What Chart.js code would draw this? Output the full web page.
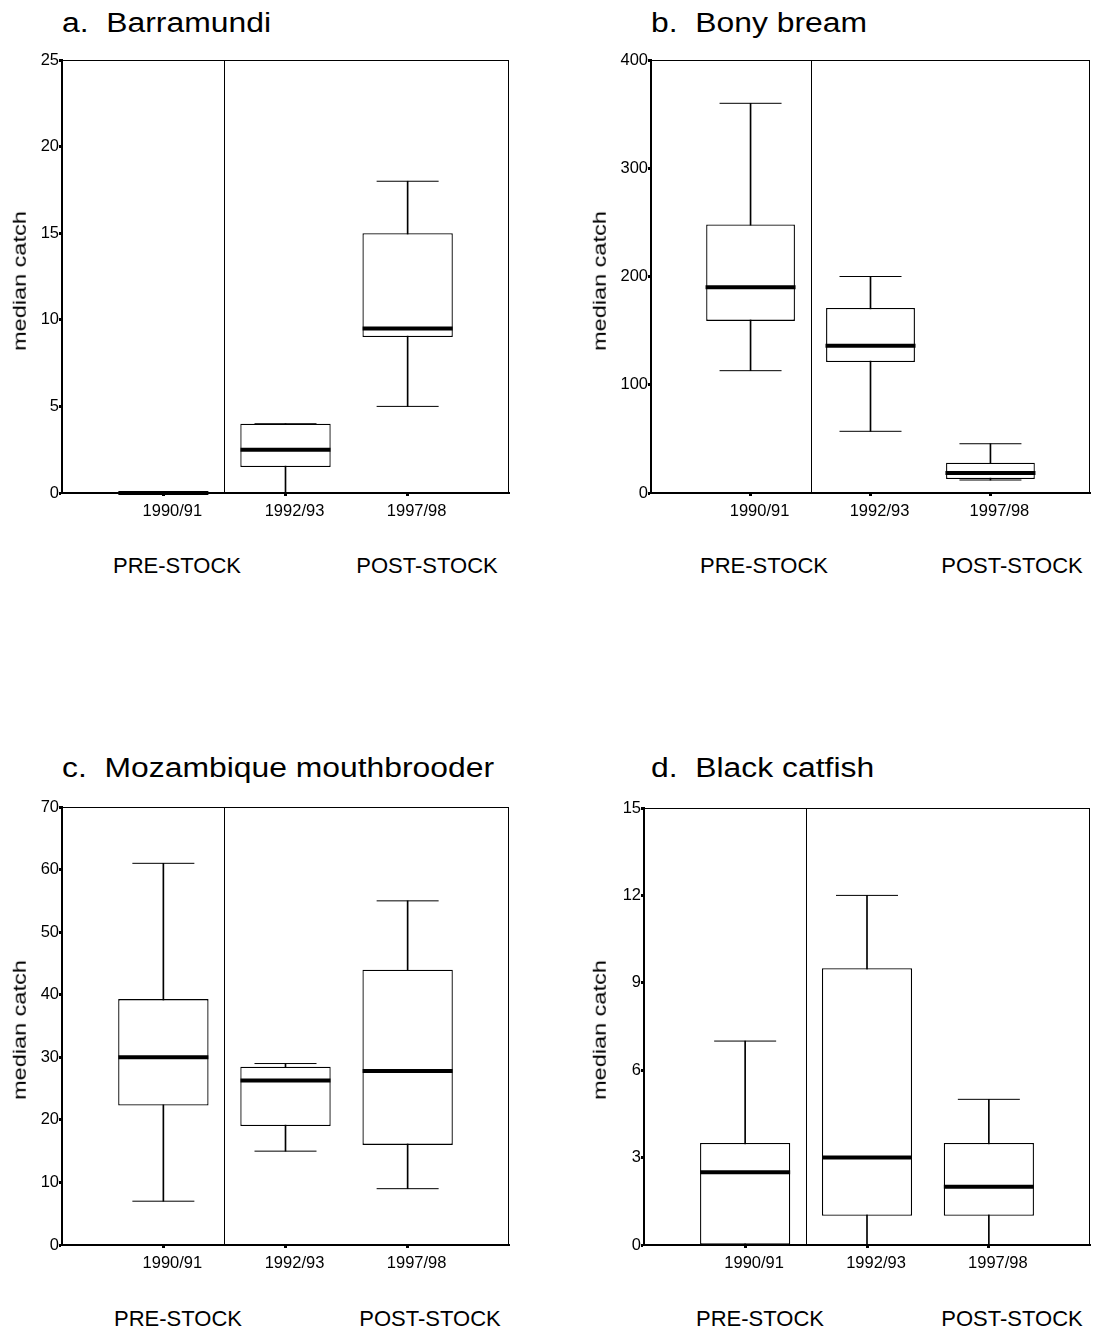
<!DOCTYPE html>
<html>
<head>
<meta charset="utf-8">
<script src="https://cdn.jsdelivr.net/npm/chart.js@4.4.1/dist/chart.umd.min.js"></script>
<style>
    html, body { margin: 0; padding: 0; background: #fff; overflow: hidden; }
    #page { position: relative; width: 1096px; height: 1333px; font-family: "Liberation Sans", Arial, sans-serif; color: #000; }
    .panel { position: absolute; }
    .title { position: absolute; font-size: 27px; line-height: 1; white-space: pre; transform: scaleX(1.18); transform-origin: left top; }
    .ylab { position: absolute; font-size: 18.5px; line-height: 1; white-space: nowrap; transform: translate(-50%, -50%) rotate(-90deg) scaleX(1.27); }
    .stock { position: absolute; font-size: 22px; line-height: 1; white-space: nowrap; transform: translateX(-50%); }
</style>
</head>
<body>
<div id="page"></div>
<script>
const seasons = ["1990/91", "1992/93", "1997/98"];
const stockBreak = 0.5; // stocking happened between the first and second season

/*BARRAMUNDI*/
const barraMin = [0, 0, 5];
const barraQ1 = [0, 1.5, 9];
const barraMed = [0, 2.5, 9.5];
const barraQ3 = [0, 4, 15];
const barraMax = [0, 4, 18];
const barraTicks = [0, 5, 10, 15, 20, 25];

/*BONY BREAM*/
const bonyMin = [113, 57, 12];
const bonyQ1 = [159, 121, 13];
const bonyMed = [190, 136, 18.5];
const bonyQ3 = [248, 171, 28];
const bonyMax = [360, 200, 45.5];
const bonyTicks = [0, 100, 200, 300, 400];

/*MOZAMBIQUE MOUTHBROODER*/
const mozMin = [7, 15, 9];
const mozQ1 = [22.3, 19, 16];
const mozMed = [30, 26.3, 27.8];
const mozQ3 = [39.3, 28.5, 44];
const mozMax = [61, 29, 55];
const mozTicks = [0, 10, 20, 30, 40, 50, 60, 70];

/*BLACK CATFISH*/
const catMin = [0, 0, 0];
const catQ1 = [0, 1, 1];
const catMed = [2.5, 3, 2];
const catQ3 = [3.5, 9.5, 3.5];
const catMax = [7, 12, 5];
const catTicks = [0, 3, 6, 9, 12, 15];

const panels = [
    { title: "a.  Barramundi", area: [62, 60, 509, 493], titlePos: [62, 10], ylab: [20, 281], stock: [177, 427, 555],
      min: barraMin, q1: barraQ1, med: barraMed, q3: barraQ3, max: barraMax, ticks: barraTicks },
    { title: "b.  Bony bream", area: [651, 60, 1090, 493], titlePos: [651, 10], ylab: [600, 281], stock: [764, 1012, 555],
      min: bonyMin, q1: bonyQ1, med: bonyMed, q3: bonyQ3, max: bonyMax, ticks: bonyTicks },
    { title: "c.  Mozambique mouthbrooder", area: [62, 807, 509, 1245], titlePos: [62, 754.5], ylab: [20, 1030], stock: [178, 430, 1308],
      min: mozMin, q1: mozQ1, med: mozMed, q3: mozQ3, max: mozMax, ticks: mozTicks },
    { title: "d.  Black catfish", area: [644, 808, 1090, 1245], titlePos: [651, 754.5], ylab: [600, 1030], stock: [760, 1012, 1308],
      min: catMin, q1: catQ1, med: catMed, q3: catQ3, max: catMax, ticks: catTicks }
];

Chart.defaults.font.family = '"Liberation Sans", Arial, sans-serif';
Chart.defaults.color = "#000";

// box outline around the plot area plus the pre/post stocking divider
const framePlugin = {
    id: "frame",
    beforeDatasetsDraw(chart) {
        const { ctx, chartArea: a, scales } = chart;
        const l = Math.round(a.left) + 0.5, t = Math.round(a.top) + 0.5;
        const r = Math.round(a.right) - 0.5, b = Math.round(a.bottom) - 0.5;
        ctx.save();
        ctx.strokeStyle = "#000";
        ctx.lineWidth = 1;
        ctx.strokeRect(l, t, r - l, b - t);
        const bx = Math.round(scales.x.getPixelForValue(stockBreak)) + 0.5;
        ctx.beginPath();
        ctx.moveTo(bx, t);
        ctx.lineTo(bx, b);
        ctx.stroke();
        ctx.restore();
    }
};

const page = document.getElementById("page");

function addText(cls, text, x, y) {
    const el = document.createElement("div");
    el.className = cls;
    el.textContent = text;
    el.style.left = x + "px";
    el.style.top = y + "px";
    page.appendChild(el);
}

function points(arr) {
    return arr.map((v, i) => ({ x: i, y: v }));
}

function makePanel(p) {
    const [L, T, R, B] = p.area;
    const wrap = document.createElement("div");
    wrap.className = "panel";
    wrap.style.left = (L - 60) + "px";
    wrap.style.top = (T - 10) + "px";
    wrap.style.width = (R - L + 64) + "px";
    wrap.style.height = (B - T + 60) + "px";
    const canvas = document.createElement("canvas");
    wrap.appendChild(canvas);
    page.appendChild(wrap);

    const axisGrid = { display: true, offset: false, drawOnChartArea: false, drawTicks: true, tickLength: 3, tickWidth: 3, tickColor: "#000" };
    const axisBorder = { display: true, color: "#000", width: 2 };

    new Chart(canvas, {
        type: "bar",
        data: {
            datasets: [
                {
                    // medians
                    type: "line", data: points(p.med), showLine: false, clip: false,
                    pointStyle: "line", pointRadius: 45, pointHoverRadius: 45,
                    pointBorderWidth: 4, pointBorderColor: "#000", order: 0
                },
                {
                    // upper whisker caps
                    type: "line", data: points(p.max), showLine: false, clip: false,
                    pointStyle: "line", pointRadius: 31, pointHoverRadius: 31,
                    pointBorderWidth: 1, pointBorderColor: "#000", order: 0
                },
                {
                    // lower whisker caps
                    type: "line", data: points(p.min), showLine: false, clip: false,
                    pointStyle: "line", pointRadius: 31, pointHoverRadius: 31,
                    pointBorderWidth: 1, pointBorderColor: "#000", order: 0
                },
                {
                    // interquartile boxes
                    type: "bar", data: p.q1.map((v, i) => ({ x: i, y: [v, p.q3[i]] })),
                    backgroundColor: "#fff", borderColor: "#000", borderWidth: 1.3, borderSkipped: false,
                    grouped: false, categoryPercentage: 1, barPercentage: 0.74, order: 1
                },
                {
                    // whiskers
                    type: "bar", data: p.min.map((v, i) => ({ x: i, y: [v, p.max[i]] })),
                    backgroundColor: "#000", borderWidth: 0, grouped: false,
                    maxBarThickness: 1, categoryPercentage: 1, barPercentage: 1, order: 2
                }
            ]
        },
        options: {
            responsive: true,
            maintainAspectRatio: false,
            animation: false,
            layout: { autoPadding: false, padding: { left: 10, top: 10, right: 4, bottom: 10 } },
            plugins: { legend: { display: false }, tooltip: { enabled: false } },
            scales: {
                x: {
                    type: "linear", min: -0.83, max: 2.83, offset: false,
                    afterBuildTicks: s => { s.ticks = seasons.map((_, i) => ({ value: i })); },
                    afterFit: s => { s.height = 40; },
                    grid: axisGrid,
                    border: axisBorder,
                    ticks: { callback: (v, i) => seasons[i], autoSkip: false, maxRotation: 0, padding: 6, labelOffset: 9, font: { size: 16.5 } }
                },
                y: {
                    min: 0, max: p.ticks[p.ticks.length - 1], offset: false,
                    afterBuildTicks: s => { s.ticks = p.ticks.map(v => ({ value: v })); },
                    afterFit: s => { s.width = 50; },
                    grid: axisGrid,
                    border: axisBorder,
                    ticks: { callback: v => String(v), padding: 0, font: { size: 16.5 } }
                }
            }
        },
        plugins: [framePlugin]
    });

    addText("title", p.title, p.titlePos[0], p.titlePos[1]);
    addText("ylab", "median catch", p.ylab[0], p.ylab[1]);
    addText("stock", "PRE-STOCK", p.stock[0], p.stock[2]);
    addText("stock", "POST-STOCK", p.stock[1], p.stock[2]);
}

panels.forEach(makePanel);
</script>
</body>
</html>
